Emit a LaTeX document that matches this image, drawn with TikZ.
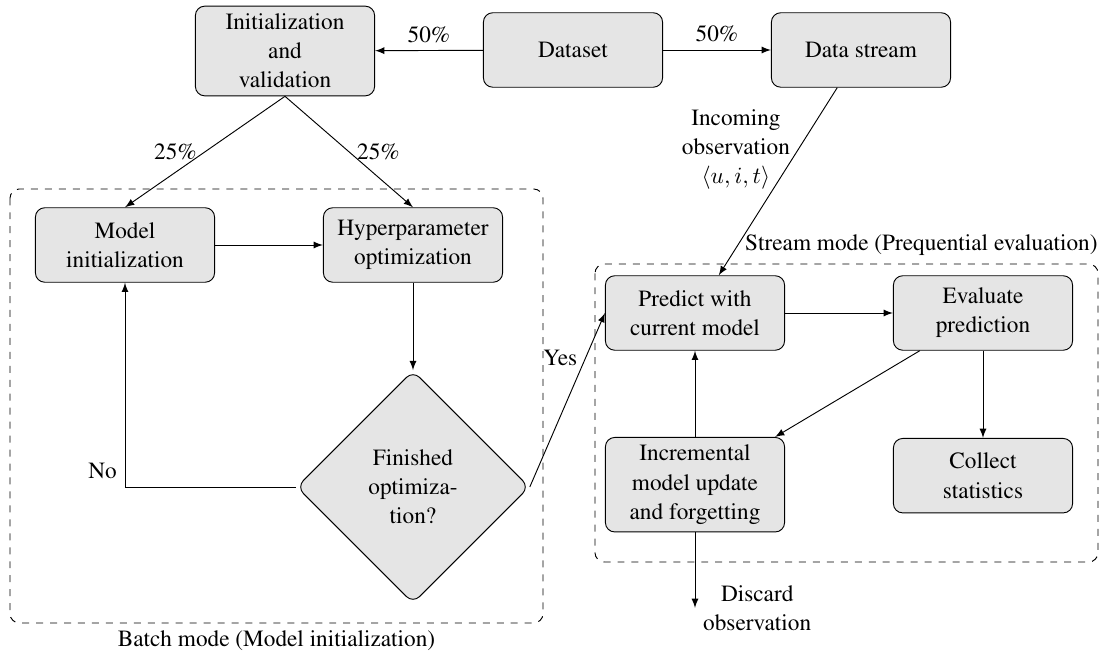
\documentclass[tikz,border=0pt]{standalone}
\usepackage[T1]{fontenc}
\usepackage{times}
\usetikzlibrary{arrows, positioning, shapes.geometric}

\tikzset{
    block/.style={rectangle, rounded corners, draw, fill=gray!20, minimum width=77pt, minimum height=32pt, align=center},
    decision/.style={diamond, aspect=1, rounded corners, draw, fill=gray!20, minimum width=100pt, minimum height=100pt, inner sep=0pt, align=center},
    line/.style={draw, ->, >=latex},
    modebox/.style={draw, dashed, rounded corners}
}

\begin{document}
\begin{tikzpicture}[x=0.0151cm, y=-0.0151cm, font=\fontsize{10}{12.5}\selectfont]
    \useasboundingbox (0,0) rectangle (1105,662);

    % Hàng trên
    \node [block] (init) at (285,51) {Initialization\\and\\validation};
    \node [block] (data) at (573,50) {Dataset};
    \node [block] (stream) at (861,50) {Data stream};

    % Batch mode
    \node [block] (model) at (125,245) {Model\\initialization};
    \node [block] (hyper) at (413,245) {Hyperparameter\\optimization};
    \node [decision] (finished) at (413,487) {Finished\\optimiza-\\tion?};

    % Stream mode
    \node [block] (predict) at (695,313) {Predict with\\current model};
    \node [block] (evaluate) at (983,313) {Evaluate\\prediction};
    \node [block, anchor=north] (incr) at (695,437) {Incremental\\model update\\and forgetting};
    \node [block, anchor=north] (collect) at (983,438) {Collect\\statistics};
    \coordinate (discard) at (695,608);

    % Khung nét đứt
    \draw [modebox] (10,189) rectangle (543,623);
    \node [below] (batchlbl) at (276.5,623) {Batch mode (Model initialization)};
    \draw [modebox] (595,264) rectangle (1098,562);
    \node [anchor=south east, inner xsep=0pt] (streamlbl) at (1098,264) {Stream mode (Prequential evaluation)};

    % Các mũi tên
    \draw [line] (data) -- node[above] {50\%} (init);
    \draw [line] (data) -- node[above] {50\%} (stream);
    \draw [line] (init.south) -- node[left] {25\%} (model.north);
    \draw [line] (init.south) -- node[right] {25\%} (hyper.north);
    \draw [line] (model) -- (hyper);
    \draw [line] (hyper) -- (finished);
    \draw [line] (finished.west) -| node[above left] {No} (model.south);
    \draw [line] (finished.east) -- node[left, pos=0.74] {Yes} (predict.west);
    \draw [line] (stream) -- node[left, pos=0.33, align=center] {Incoming\\observation\\$\langle u,i,t\rangle$} (predict);
    \draw [line] (predict) -- (evaluate);
    \draw [line] (evaluate) -- (incr);
    \draw [line] (evaluate) -- (collect);
    \draw [line] (incr) -- (predict);
    \draw [line] (incr) -- (discard);
    \node [right, align=center] (discardlbl) at (discard) {Discard\\observation};
\end{tikzpicture}
\end{document}
